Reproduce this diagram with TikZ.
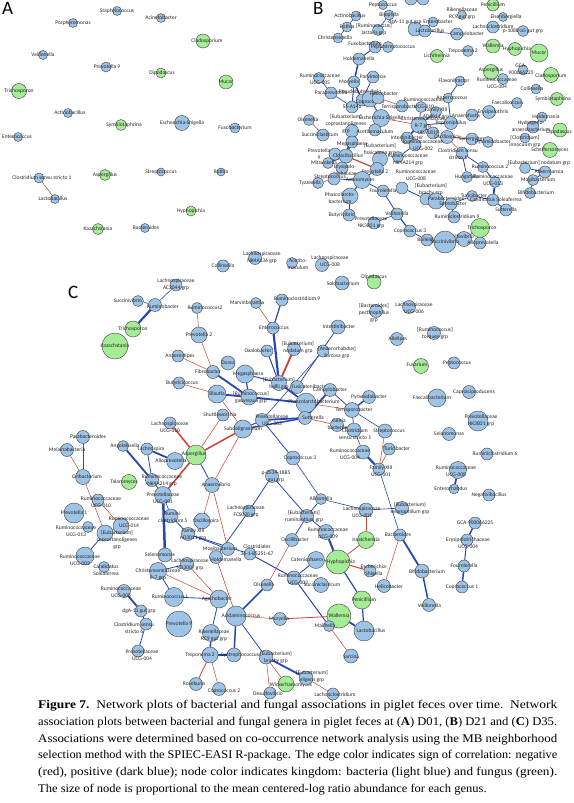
\documentclass[tikz,border=0pt]{standalone}
\usepackage{graphicx}
\usepackage{fontspec}
\setmainfont{Liberation Serif}
\newfontfamily\lblfont{Carlito}
\usetikzlibrary{backgrounds}

\definecolor{bacfill}{RGB}{157,195,230}
\definecolor{funfill}{RGB}{165,236,150}
\definecolor{posblue}{RGB}{40,70,180}
\definecolor{negred}{RGB}{205,65,50}

\tikzset{
  bac/.style={circle, draw=black!70, fill=bacfill, line width=0.45pt, inner sep=0pt},
  fun/.style={circle, draw=black!70, fill=funfill, line width=0.45pt, inner sep=0pt},
  lbl/.style={font=\lblfont\fontsize{5.5}{7}\selectfont, text=black!85, align=center, inner sep=0pt},
  panel/.style={font=\lblfont\fontsize{19}{19}\selectfont, anchor=base west, inner sep=0pt},
  poslink/.style={draw=posblue},
  neglink/.style={draw=negred}
}

\newcommand{\capline}[1]{\resizebox{519pt}{\height}{#1}}

\begin{document}
\begin{tikzpicture}[x=1pt, y=-1pt]
  \useasboundingbox (0,0) rectangle (573,803);

  % Panel letters
  \node[panel] (lettA) at (2,14) {A};
  \node[panel] (lettB) at (313,14) {B};
  \node[panel] (lettC) at (68,298) {C};

  % Nodes: name / x / y / size / kingdom / label shift x / label shift y / label
  \foreach \n/\x/\y/\d/\t/\ox/\oy/\txt in {
    % panel A (D01)
    aStaph/117/11/9/bac/0/0/{Staphylococcus},
    aPorph/73/23/9/bac/0/0/{Porphyromonas},
    aAcin/161/18/9/bac/0/0/{Acinetobacter},
    aClado/203/41/14/fun/4/0/{Cladosporium},
    aVeil/43/55/9/bac/0/0/{Veillonella},
    aPrev/106/67/10/bac/1/0/{Prevotella 9},
    aDipo/161/73/10/fun/1/0/{Dipodascus},
    aMucor/226/82/14/fun/0/0/{Mucor},
    aTrich/19/91/15/fun/0/0/{Trichosporon},
    aActi/68/113/9/bac/2/0/{Actinobacillus},
    aSymb/121/125/11/fun/3/0/{Symbiotaphrina},
    aEsch/182/123/15/bac/0/0/{Escherichia-Shigella},
    aFuso/235/128/10/bac/0/0/{Fusobacterium},
    aEnte/18/137/9/bac/-1/0/{Enterococcus},
    aClos/39/178/10/bac/3/0/{Clostridium sensu stricto 1},
    aLact/55/199/9/bac/-2/0/{Lactobacillus},
    aAspe/105/175/11/fun/0/0/{Aspergillus},
    aStre/161/172/8/bac/0/0/{Streptococcus},
    aRoth/221/172/8/bac/0/0/{Rothia},
    aHyph/191/211/10/fun/0/0/{Hyphopichia},
    aKaza/98/229/11/fun/0/0/{Kazachstania},
    aBact/145/228/9/bac/1/0/{Bacteroides},
    % panel B (D21)
    bTopa/411/-1/12/bac/0/0/{},
    bTopb/423/-1/12/bac/0/0/{},
    bPept/383/5/9/bac/0/0/{Peptococcus},
    bActi/356/16/10/bac/-6/0/{Actinobacillus},
    bRoth/347/27/10/bac/0/0/{Rothia},
    bBilo/389/15/10/bac/0/0/{Bilophila},
    bLact/378/30/11/bac/-4/-1/{[Ruminococcus]\\lactaris grp},
    bChri/338/38/10/bac/-3/0/{Christensenella},
    bRike/462/15/9/bac/0/-1/{Rikenellaceae\\RC9 gut grp},
    bPeni/493/5/12/fun/0/0/{Penicillium},
    bEnbt/433/22/10/bac/5/0/{Enterobacter},
    bDgA/415/29/14/bac/-10/-7/{dgA-11 gut grp},
    bLacb/425/31/12/bac/5/0/{Lactobacillus},
    bCamp/457/34/12/bac/10/0/{Campylobacter},
    bEise/503/17/9/bac/3/0/{Eisenbergiella},
    bLacc/493/27/12/bac/0/0/{Lachnoclostridium},
    bPone/523/31/11/bac/0/0/{p-1088-a5 gut grp},
    bFuso/375/47/12/bac/-10/-3/{Fusobacterium},
    bStrep/388/47/11/bac/5/0/{Peptostreptococcus},
    bHold/359/59/12/bac/0/0/{Holdemanella},
    bLich/437/56/13/fun/0/0/{Lichtheimia},
    bTrep/468/51/11/bac/-5/0/{Treponema 2},
    bWall/493/46/14/fun/0/0/{Wallemia},
    bHyph/515/49/13/fun/2/0/{Hyphopichia},
    bMucor/539/53/18/fun/0/0/{Mucor},
    bAspe/491/72/15/fun/0/-2/{Aspergillus},
    bGCA/523/70/10/bac/-2/-1/{GCA-\\900066225},
    bClad/551/75/15/fun/0/1/{Cladosporium},
    bRUfour/503/79/11/bac/-6/4/{Ruminococcaceae\\UCG-004},
    bFlav/460/81/10/bac/-6/0/{Flavonifractor},
    bAnco/448/98/10/bac/4/0/{Anaerococcus},
    bColl/536/89/10/bac/-4/0/{Collinsella},
    bSymb/557/99/13/fun/-4/0/{Symbiotaphrina},
    bFaec/517/103/11/bac/-10/0/{Faecalicoccus},
    bRUfive/319/78/11/bac/1/1/{Ruminococcaceae\\UCG-005},
    bMits/354/82/12/bac/-5/0/{Moryella},
    bParv/373/77/12/bac/0/0/{Parvimonas},
    bPara/331/93/12/bac/0/0/{Paraprevotella},
    bCate/362/100/12/bac/-2/-8/{Pseudobutyrivibrio},
    bCopr/370/99/16/bac/0/3/{Coprococcus},
    bHeli/378/98/12/bac/6/-4/{Helicobacter},
    bSfive/352/107/12/bac/0/0/{S5-A14a},
    bTerr/402/106/12/bac/-2/1/{Terrisporobacter},
    bRUten/421/107/11/bac/3/-4/{Ruminococcaceae\\UCG-010},
    bFXIII/436/112/11/bac/0/2/{Family XIII\\AD3011 grp},
    bPeni2/451/123/13/bac/0/0/{Peptoniphilus},
    bAnvb/472/115/12/bac/-6/1/{Anaerofustis},
    bErys/489/112/13/bac/4/0/{Erysipelothrix},
    bHoldm/542/117/10/bac/4/0/{Holdemania},
    bHydr/533/127/12/bac/-2/-1/{Hydrogeno-\\anaerobacterium},
    bDipo/560/130/14/fun/-1/2/{Dipodascus},
    bClIn/525/138/10/bac/0/3/{[Clostridium]\\innocuum grp},
    bOlse/309/120/11/bac/-1/0/{Olsenella},
    bSucc/323/135/12/bac/-3/0/{Succiniclasticum},
    bEuCo/352/131/13/bac/-6/-7/{[Eubacterium]\\coprostanoligenes\\grp},
    bEsch/381/118/17/bac/0/0/{Escherichia-Shigella},
    bAcet/375/130/12/bac/0/2/{Acetitomaculum},
    bRseven/419/125/16/bac/4/-2/{Christensenellaceae\\R-7 grp},
    bInte/407/138/12/bac/0/0/{Intestinibacter},
    bUBA/433/133/12/bac/-5/0/{UBA1819},
    bOsci/447/137/13/bac/0/0/{Oscillospira},
    bSyne/472/139/12/bac/0/0/{Synergistes},
    bPyra/488/142/11/bac/5/0/{Pyramidobacter},
    bSche/550/150/15/fun/0/0/{Scheffersomyces},
    bMega/352/142/12/bac/0/2/{Megasphaera},
    bFiss/380/159/15/bac/0/-10/{[Eubacterium]\\fissicatena grp},
    bRUtwo/415/145/12/bac/8/0/{Ruminococcaceae\\UCG-002},
    bNKfour/398/157/11/bac/10/3/{Ruminococcaceae\\NK4A214 grp},
    bPrevnine/335/154/12/bac/-16/0/{Prevotella\\9},
    bCloa/346/156/14/bac/2/0/{Cloacibacillus},
    bMitstwo/328/163/11/bac/-4/0/{Mitsuokella},
    bPhas/342/168/12/bac/3/2/{Erysipelo-\\trichaceae},
    bPrevtwo/377/169/13/bac/-2/3/{Prevotella 2},
    bRUCG/402/188/12/bac/14/-13/{Ruminococcaceae\\UCG-008},
    bRumtwo/483/167/11/bac/7/0/{Ruminococcus 2},
    bCssone/462/153/12/bac/-4/1/{Clostridium sensu\\stricto 1},
    bHung/467/177/11/bac/0/0/{Hungatella},
    bRthirteen/495/182/11/bac/-2/-2/{Ruminococcaceae\\UCG-013},
    bNoda/525/168/11/bac/14/-5/{[Eubacterium] nodatum grp},
    bAkke/545/172/12/bac/4/0/{Akkermansia},
    bMogi/533/180/11/bac/5/0/{Mogibacterium},
    bBifi/530/193/11/bac/6/0/{Bifidobacterium},
    bTyzz/318/183/11/bac/-8/0/{Tyzzerella},
    bStrtwo/334/179/12/bac/-4/-2/{Streptococcus},
    bActm/362/180/17/bac/-2/0/{Actinomyces},
    bFour/383/191/12/bac/0/0/{Fournierella},
    bPhstwo/350/196/16/bac/-10/2/{Phascolarcto-\\bacterium},
    bEuBr/426/199/12/bac/5/-10/{[Eubacterium]\\brachy grp},
    bParb/436/201/16/bac/10/-2/{Parabacteroides},
    bSpor/451/204/12/bac/2/0/{Sporobacter},
    bTuri/472/196/11/bac/2/0/{Turicibacter},
    bCand/493/200/12/bac/3/0/{Candidatus Soleaferrea},
    bSutt/506/210/12/bac/0/0/{Sutterella},
    bRcnine/454/217/12/bac/3/0/{Ruminiclostridium 9},
    bVeil/397/214/12/bac/0/0/{Veillonella},
    bNKthree/374/223/12/bac/-3/0/{Prevotellaceae\\NK3B31 grp},
    bButv/349/215/12/bac/-7/0/{Butyrivibrio},
    bCoprthree/410/231/12/bac/0/0/{Coprococcus 3},
    bBull/427/240/12/bac/0/0/{Bulleidia},
    bTric/480/228/19/fun/2/0/{Trichosporon},
    bDesu/464/239/15/bac/-5/-2/{Desulfovibrio},
    bSuctwo/445/242/22/bac/0/0/{Succinivibrio},
    bAllo/480/243/12/bac/3/0/{Alloprevotella},
    % panel C (D35)
    cColl/223/266/12/bac/0/0/{Collinsella},
    cNKone/255/258/13/bac/7/0/{Lachnospiraceae\\NK4A136 grp},
    cAcet/292/263/11/bac/6/1/{Acetito-\\maculum},
    cLeight/322/265/13/bac/8/-4/{Lachnospiraceae\\UCG-008},
    cSolo/342/283/14/bac/1/1/{Solobacterium},
    cDipo/374/282/14/fun/0/-5/{Dipodascus},
    cACtw/176/285/12/bac/0/0/{Lachnospiraceae\\AC2044 grp},
    cSucv/138/301/11/bac/-10/0/{Succinivibrio},
    cRumb/155/305/13/bac/8/2/{Ruminobacter},
    cTric/133/329/16/fun/0/0/{Trichosporon},
    cKaza/115/346/26/fun/0/0/{Kazachstania},
    cRumtwo/197/308/11/bac/8/0/{Ruminococcus2},
    cPretwo/199/335/16/bac/0/0/{Prevotella 2},
    cMarv/256/303/11/bac/-9/0/{Marvinbryantia},
    cRcnine/282/300/12/bac/15/-1/{Ruminoclostridium 9},
    cEnte/273/328/12/bac/1/0/{Enterococcus},
    cAnst/178/356/12/bac/2/0/{Anaerostipes},
    cButy/179/383/12/bac/3/0/{Butyricicoccus},
    cDore/228/363/14/bac/0/0/{Dorea},
    cFibr/213/372/13/bac/-5/0/{Fibrobacter},
    cMega/245/374/18/bac/3/0/{Megasphaera},
    cOxal/267/351/12/bac/-9/0/{Oxalobacter},
    cHall/279/383/15/bac/0/0/{[Eubacterium]\\hallii grp},
    cNoda/294/349/13/bac/4/-2/{[Eubacterium]\\nodatum grp},
    cBlau/217/394/18/bac/0/0/{Blautia},
    cGauv/249/397/16/bac/2/0/{[Ruminococcus]\\gauvreauii grp},
    cFusi/297/387/13/bac/13/0/{Fusicatenibacter},
    cCamp/330/390/13/bac/0/0/{Campylobacter},
    cAnrh/323/351/12/bac/14/1/{[Anaerorhabdus]\\furcosa grp},
    cInte/338/327/14/bac/1/0/{Intestinibacter},
    cPhas/306/403/20/bac/8/-1/{Phascolarctobacterium},
    cPyra/369/397/13/bac/0/0/{Pyramidobacter},
    cTerr/352/410/15/bac/2/0/{Terrisporobacter},
    cShut/223/415/12/bac/-3/0/{Shuttleworthia},
    cPUthree/262/420/13/bac/10/0/{Prevotellaceae\\UCG-003},
    cSubd/243/429/18/bac/0/0/{Subdoligranulum},
    cSutt/305/418/13/bac/8/0/{Sutterella},
    cGelr/337/425/13/bac/2/-1/{Gelria\\bacterium},
    cCssone/354/430/14/bac/1/4/{Clostridium\\sensu stricto 1},
    cStre/385/431/14/bac/4/0/{Streptococcus},
    cTuri/389/449/12/bac/8/0/{Turicibacter},
    cRfour/363/452/14/bac/-13/2/{Ruminococcaceae\\UCG-004},
    cFXone/379/469/12/bac/2/2/{Family XIII\\UCG-001},
    cCopthree/293/458/14/bac/7/0/{Coprococcus 3},
    cAlls/321/499/11/bac/0/0/{Allisonella},
    cErum/307/516/13/bac/-3/0/{[Eubacterium]\\ruminantium grp},
    cLone/366/510/14/bac/-4/2/{Lachnospiraceae\\UCG-001},
    cExyl/402/508/13/bac/8/0/{[Eubacterium]\\xylanophilum grp},
    cRnine/326/532/15/bac/2/1/{Ruminococcaceae\\UCG-009},
    cOscb/292/540/13/bac/3/0/{Oscillibacter},
    cIssa/366/540/17/fun/0/0/{Issatchenkia},
    cBact/400/535/12/bac/-2/0/{Bacteroides},
    cNKthree/478/421/20/bac/3/0/{Prevotellaceae\\NK3B31 grp},
    cSele/449/434/13/bac/0/0/{Selenomonas},
    cRcsix/487/454/12/bac/8/0/{Ruminiclostridium 6},
    cReight/458/470/17/bac/-2/1/{Ruminococcaceae\\UCG-008},
    cEnrh/454/489/10/bac/-3/0/{Enterorhabdus},
    cNega/489/495/12/bac/0/0/{Negativibacillus},
    cGCA/475/523/12/bac/0/0/{GCA-900066225},
    cErfour/467/540/12/bac/1/3/{Erysipelotrichaceae\\UCG-004},
    cFour/464/566/12/bac/0/0/{Fournierella},
    cCopone/462/587/12/bac/0/0/{Coprococcus 1},
    cFaec/437/398/18/bac/-5/0/{Faecalibacterium},
    cCapr/469/392/13/bac/5/0/{Caproiciproducens},
    cFusa/421/366/15/fun/-4/-1/{Fusarium},
    cPept/454/363/12/bac/3/0/{Peptococcus},
    cAlis/397/339/13/bac/1/0/{Alistipes},
    cTorq/434/333/13/bac/1/0/{[Ruminococcus]\\torques grp},
    cBpec/376/311/13/bac/-2/2/{[Bacteroides]\\pectinophilus\\grp},
    cLsix/409/307/13/bac/5/1/{Lachnospiraceae\\UCG-006},
    cLten/170/423/12/bac/0/4/{Lachnospiraceae\\UCG-010},
    cAspe/196/455/20/fun/-2/-1/{Aspergillus},
    cAllp/175/461/17/bac/-4/0/{Alloprevotella},
    cLchs/147/449/12/bac/4/0/{Lachnospira},
    cAnge/123/446/11/bac/2/0/{Angelakisella},
    cParb/83/437/13/bac/5/0/{Parabacteroides},
    cMela/67/450/13/bac/0/0/{Melainabacteria},
    cOrib/83/477/15/bac/4/0/{Oribacterium},
    cTala/129/482/15/fun/-5/0/{Talaromyces},
    cNKtwo/152/480/13/bac/10/1/{Ruminococcaceae\\NK4A214 grp},
    cPUone/163/495/17/bac/0/3/{Prevotellaceae\\UCG-001},
    cAnvb/212/485/15/bac/4/0/{Anaerovibrio},
    cRten/98/500/12/bac/3/2/{Ruminococcaceae\\UCG-010},
    cPreone/74/513/20/bac/0/0/{Prevotella 1},
    cRcfive/171/516/14/bac/2/1/{Rumini-\\clostridium 5},
    cOscp/202/521/16/bac/4/0/{Oscillospira},
    cRthirteen/88/527/11/bac/-12/4/{Ruminococcaceae\\UCG-013},
    cRfourteen/121/526/16/bac/8/-4/{Ruminococcaceae\\UCG-014},
    cEcop/105/533/16/bac/12/7/{[Eubacterium]\\coprostanoligenes\\grp},
    cFXAD/188/534/13/bac/5/1/{Family XIII\\AD3011 grp},
    cFCS/249/511/12/bac/-3/1/{Lachnospiraceae\\FCS020 grp},
    cPtwo/272/476/13/bac/4/1/{p-2534-18B5\\gut grp},
    cRtwo/85/556/18/bac/-5/4/{Ruminococcaceae\\UCG-002},
    cCand/104/567/11/bac/2/3/{Candidatus\\Soleaferrea},
    cSelm/165/555/14/bac/-5/0/{Selenomonas},
    cLND/187/564/13/bac/3/1/{Lachnospiraceae\\ND3007 grp},
    cMogi/228/549/13/bac/-8/0/{Mogibacterium},
    cHold/216/557/13/bac/10/3/{Holdemanella},
    cClos/250/554/12/bac/7/-4/{Clostridiales\\36-1-BS251-67},
    cChri/158/571/17/bac/0/4/{Christensenellaceae\\R-7 grp},
    cRfive/124/591/13/bac/-3/1/{Ruminococcaceae\\UCG-005},
    cRumone/174/597/19/bac/-4/0/{Ruminococcus 1},
    cDgA/141/611/12/bac/-2/0/{dgA-11 gut grp},
    cPrenine/179/624/26/bac/0/0/{Prevotella 9},
    cCsssix/146/624/12/bac/-12/4/{Clostridium sensu\\stricto 6},
    cPUfour/138/651/12/bac/4/4/{Prevotellaceae\\UCG-004},
    cAgat/219/599/18/bac/-2/0/{Agathobacter},
    cAcid/236/616/20/bac/5/0/{Acidaminococcus},
    cRike/211/633/17/bac/3/3/{Rikenellaceae\\RC9 gut grp},
    cTrep/210/655/16/bac/-10/0/{Treponema 2},
    cSynt/234/655/14/bac/6/0/{Syntrophococcus},
    cRose/196/684/13/bac/-2/0/{Roseburia},
    cCoptwo/219/689/13/bac/5/2/{Coprococcus 2},
    cEbra/266/657/14/bac/10/0/{[Eubacterium]\\brachy grp},
    cWick/286/684/16/fun/5/1/{Wickerhamomyces},
    cDesu/270/693/12/bac/-2/1/{Desulfovibrio},
    cElig/306/678/14/bac/6/-2/{[Eubacterium]\\eligens grp},
    cLacc/333/694/12/bac/2/1/{Lachnoclostridium},
    cMory/280/619/13/bac/-1/0/{Moryella},
    cOlse/267/585/12/bac/-3/0/{Olsenella},
    cRthree/294/578/14/bac/4/1/{Ruminococcaceae\\UCG-003},
    cSucl/321/585/15/bac/1/0/{Succiniclasticum},
    cCats/316/560/17/bac/-9/0/{Catenisphaera},
    cHyph/338/562/24/fun/3/0/{Hyphopichia},
    cEsch/370/571/12/bac/4/0/{Escherichia-\\Shigella},
    cHeli/384/586/13/bac/5/1/{Helicobacter},
    cPeni/362/600/18/fun/2/0/{Penicillium},
    cWall/339/616/24/fun/0/0/{Wallemia},
    cMail/329/626/11/bac/-4/0/{Mailhella},
    cLact/364/631/20/bac/7/0/{Lactobacillus},
    cSarc/351/656/14/bac/0/1/{Sarcina},
    cBifi/422/571/14/bac/5/1/{Bifidobacterium},
    cVeil/429/605/13/bac/1/1/{Veillonella}
  }{
    \node[\t, minimum size=\d pt] (\n) at (\x,\y) {};
    \node[lbl] (\n-t) at (\x+\ox,\y+\oy) {\txt};
  }

  \begin{scope}[on background layer]
    \fill[white] (0,0) rectangle (573,803);
    % positive associations
    \foreach \a/\b/\w in {
      bActi/bRoth/0.6, bRoth/bChri/0.6, bBilo/bLact/0.6, bFuso/bHold/1.0,
      bFuso/bStrep/0.6, bHold/bMits/1.5, bMits/bSfive/1.0, bMits/bCate/1.5,
      bParv/bCate/0.8, bCate/bCopr/1.2, bCopr/bHeli/1.0, bRUfive/bPara/0.6,
      bPara/bSfive/0.6, bCopr/bEsch/1.0, bRseven/bRUten/0.8, bRseven/bUBA/1.8,
      bRseven/bInte/1.8, bRseven/bFXIII/1.0, bRseven/bPeni2/0.8, bPeni2/bAnco/0.8,
      bAnco/bFlav/0.8, bSyne/bPyra/0.8, bCssone/bHung/0.8, bCssone/bRumtwo/0.8,
      bRumtwo/bRthirteen/0.8, bRthirteen/bCand/1.8, bCand/bSutt/0.8, bCand/bTuri/0.8,
      bTuri/bSpor/0.8, bParb/bEuBr/0.8, bEuBr/bRUCG/0.8, bPrevtwo/bActm/0.8,
      bActm/bStrtwo/0.8, bActm/bPhstwo/1.2, bActm/bFour/0.8, bPhstwo/bButv/1.0,
      bFour/bVeil/0.8, bVeil/bCoprthree/1.2, bCoprthree/bBull/0.8, bBull/bSuctwo/0.8,
      bTric/bAllo/0.6, bCloa/bPrevnine/1.8, bCloa/bMega/1.0, bCloa/bPhas/1.8,
      bMitstwo/bCloa/1.0, bEuCo/bCloa/1.5, bInte/bRUtwo/0.8, bRUtwo/bNKfour/0.8,
      bAkke/bMogi/0.8, bMogi/bBifi/1.2, bNoda/bAkke/0.8, bHoldm/bHydr/0.8,
      bLacb/bCamp/0.6, bLacb/bEnbt/0.6, bDgA/bLacb/0.6, bPrevnine/bMitstwo/1.0,
      bEsch/bAcet/0.6, bNKthree/bVeil/0.6, bRcnine/bSpor/0.6,
      cRumb/cTric/2.2, cRumb/cACtw/0.6, cSucv/cRumb/0.6, cRcnine/cEnte/1.2,
      cEnte/cHall/2.2, cOxal/cHall/1.0, cMega/cHall/1.0, cFibr/cGauv/1.8,
      cBlau/cGauv/1.8, cMega/cGauv/1.2, cGauv/cPhas/1.8, cHall/cPhas/1.8,
      cFusi/cInte/0.8, cAnrh/cPUthree/0.6, cCamp/cSutt/1.8, cPyra/cTerr/1.5,
      cCamp/cTerr/0.8, cPUthree/cSutt/1.8, cSubd/cPUthree/1.0, cSubd/cSutt/1.4,
      cPhas/cSutt/1.0, cTerr/cStre/0.6, cTerr/cCssone/0.8, cGelr/cCssone/0.8,
      cCssone/cRfour/0.6, cRfour/cFXone/2.2, cFXone/cBact/0.6, cBact/cBifi/1.8,
      cBifi/cVeil/1.5, cErfour/cFour/1.0, cFour/cCopone/1.5, cGCA/cErfour/1.5,
      cReight/cEnrh/1.8, cAlls/cCopthree/0.6, cAlls/cLone/0.6, cLone/cExyl/0.6,
      cErum/cAlls/0.8, cErum/cRnine/0.8, cPtwo/cErum/0.8, cPtwo/cFCS/0.8,
      cCopthree/cPUthree/0.8, cRnine/cHyph/2.0, cErum/cOscb/0.8, cHyph/cCats/1.2,
      cHyph/cPeni/1.2, cPeni/cLact/1.2, cWall/cLact/1.8, cWall/cMail/1.0,
      cCats/cRthree/0.8, cRthree/cMail/1.0, cClos/cRthree/1.0, cFXAD/cClos/0.8,
      cMogi/cFXAD/0.8, cFCS/cHold/0.8, cPUone/cSelm/2.5, cNKtwo/cAnge/1.8,
      cNKtwo/cLchs/0.8, cLchs/cAllp/1.8, cNKtwo/cPUone/0.8, cAspe/cAnvb/0.8,
      cParb/cOrib/1.0, cRcfive/cFXAD/0.8, cRcfive/cPUone/0.6, cEcop/cRfourteen/0.8,
      cEcop/cRtwo/0.8, cRfive/cDgA/1.8, cDgA/cCsssix/1.0, cCsssix/cPUfour/0.8,
      cRumone/cChri/0.8, cRumone/cAgat/0.8, cChri/cLND/0.8, cAgat/cRike/0.8,
      cAcid/cOlse/1.5, cAcid/cSynt/1.5, cAcid/cEbra/0.8, cTrep/cRike/1.5,
      cTrep/cSynt/1.8, cEbra/cElig/1.8
    }{
      \draw[poslink, line width=\w pt] (\a) -- (\b);
    }
    % negative associations
    \foreach \a/\b/\w in {
      aClos/aLact/0.5,
      bEsch/bRseven/0.6, bHeli/bTerr/0.6, bCloa/bPrevtwo/1.2, bOlse/bSucc/0.6,
      bOsci/bSyne/1.0, bOsci/bCssone/0.5, bStrtwo/bTyzz/0.6, bSpor/bParb/0.6,
      bSuctwo/bDesu/0.8, bDesu/bTric/0.8,
      cNoda/cHall/1.8, cRumtwo/cPretwo/0.5, cPretwo/cFibr/0.5, cFibr/cAnst/0.5,
      cBlau/cButy/0.5, cMarv/cEnte/0.5, cBlau/cSubd/0.5, cPhas/cTerr/0.5,
      cSutt/cGelr/0.6, cStre/cFXone/0.5, cTuri/cFXone/0.5, cBact/cHeli/0.5,
      cLone/cIssa/0.5, cHyph/cIssa/0.8, cHyph/cEsch/1.0, cWall/cMory/0.8,
      cAcid/cMory/0.5, cAcid/cHold/0.6, cMail/cSarc/0.5, cAspe/cLten/1.5,
      cAspe/cSubd/1.5, cAspe/cPUone/1.5, cAspe/cShut/0.5, cAnvb/cSubd/0.5,
      cAnvb/cOscp/0.5, cAnvb/cMogi/0.5, cMela/cOrib/0.5, cOrib/cEcop/0.5,
      cRten/cRfourteen/0.5, cSelm/cChri/0.5, cChri/cAgat/0.5, cLND/cAgat/0.5,
      cTrep/cRose/0.8, cTrep/cCoptwo/0.5, cEbra/cWick/0.5, cEbra/cDesu/0.5,
      cElig/cLacc/0.5, cOscb/cOlse/0.5
    }{
      \draw[neglink, line width=\w pt] (\a) -- (\b);
    }
  \end{scope}

  % Caption
  \node[anchor=north west, inner sep=0pt, align=left,
        font=\fontsize{11.8}{16.8}\selectfont] (caption) at (38,700) {%
    \capline{\textbf{Figure 7.}\enspace Network plots of bacterial and fungal associations in piglet feces over time.\enspace Network}\\
    \capline{association plots between bacterial and fungal genera in piglet feces at (\textbf{A}) D01, (\textbf{B}) D21 and (\textbf{C}) D35.}\\
    \capline{Associations were determined based on co-occurrence network analysis using the MB neighborhood}\\
    \capline{selection method with the SPIEC-EASI R-package. The edge color indicates sign of correlation: negative}\\
    \capline{(red), positive (dark blue); node color indicates kingdom: bacteria (light blue) and fungus (green).}\\
    \scalebox{1.06}[1]{The size of node is proportional to the mean centered-log ratio abundance for each genus.}};
\end{tikzpicture}
\end{document}
